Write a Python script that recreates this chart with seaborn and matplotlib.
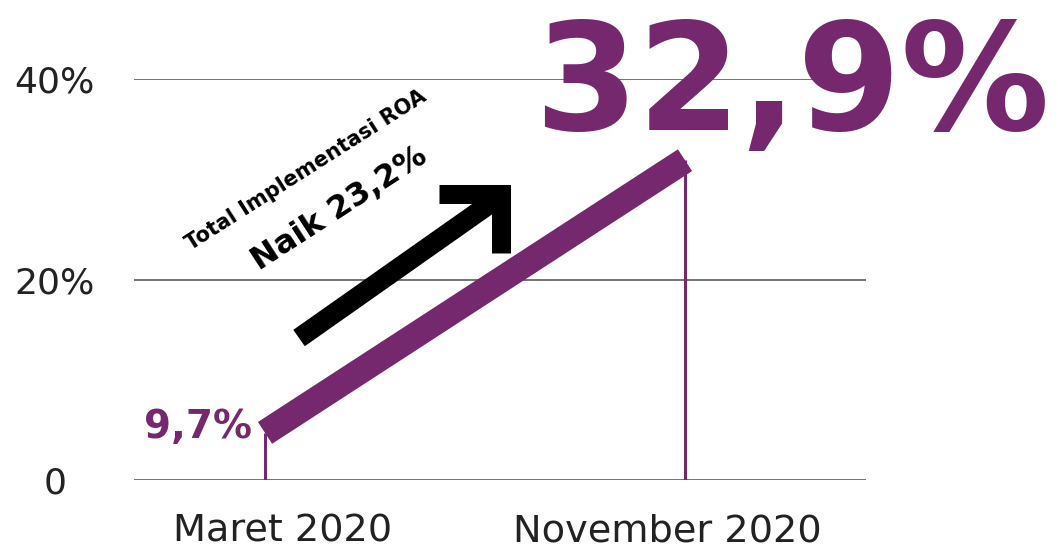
import numpy as np
import pandas as pd
import matplotlib
matplotlib.use("Agg")
import matplotlib.pyplot as plt
import matplotlib.transforms as mtransforms
import seaborn as sns

# ---- data ----
categories = ["Maret 2020", "November 2020"]
roa_values = [9.7, 32.9]          # labelled values
band_values = [4.7, 31.9]         # drawn line height
y_ticks = [0, 20, 40]
y_tick_labels = ["0", "20%", "40%"]
title_small = "Total Implementasi ROA"
title_big = "Naik 23,2%"

PURPLE = "#76286F"
DARK = "#222222"

sns.set_theme(style="white")
plt.rcParams["font.family"] = ["DejaVu Sans"]

fig = plt.figure(figsize=(10.58, 5.49), dpi=100)
ax = fig.add_axes([134 / 1058, (549 - 480) / 549, (866 - 134) / 1058, (480 - 79) / 549])

pos = np.arange(len(categories))
df = pd.DataFrame({"pos": pos, "band": band_values})

# thin vertical drop lines
ax.vlines(pos, 0, df["band"], color=PURPLE, lw=2.2, zorder=2)
# thick band line
sns.lineplot(data=df, x="pos", y="band", ax=ax, color=PURPLE, lw=18.7,
             solid_capstyle="butt", zorder=3, legend=False)

ax.set_xlim(-0.312, 1.431)
ax.set_ylim(0, 40)
ax.set_yticks(y_ticks)
ax.set_yticklabels(y_tick_labels)
ax.set_xticks(pos)
ax.set_xticklabels(categories)
ax.set_xlabel("")
ax.set_ylabel("")

for s in ax.spines.values():
    s.set_visible(False)
ax.yaxis.grid(True, color="#737373", lw=1.4, zorder=0)
ax.xaxis.grid(False)
ax.set_axisbelow(True)

ax.tick_params(axis="y", length=0, pad=57, labelsize=26, labelcolor=DARK)
ax.tick_params(axis="x", length=0, pad=24, labelsize=27.5, labelcolor=DARK)
for lab in ax.get_yticklabels():
    lab.set_horizontalalignment("center")
offsets = [18, -18]
for lab, dx in zip(ax.get_xticklabels(), offsets):
    lab.set_transform(lab.get_transform() +
                      mtransforms.ScaledTranslation(dx / 100, 0, fig.dpi_scale_trans))

def fmt(v):
    return f"{v:.1f}".replace(".", ",") + "%"

# value labels
ax.annotate(fmt(roa_values[0]), xy=(pos[0], band_values[0]), xytext=(-9.4, -3.6),
            textcoords="offset points", ha="right", va="baseline",
            fontsize=28, fontweight="bold", color=PURPLE, zorder=5)
ax.annotate(fmt(roa_values[1]), xy=(pos[1], band_values[1]), xytext=(77, 22),
            textcoords="offset points", ha="center", va="baseline",
            fontsize=107, fontweight="bold", color=PURPLE, zorder=5,
            annotation_clip=False)

# rotated annotation text
ax.text(0.235, 0.773, title_small, transform=ax.transAxes, rotation=32.5,
        rotation_mode="anchor", ha="center", va="center", fontsize=15,
        fontweight="bold", color="black")
ax.text(0.281, 0.678, title_big, transform=ax.transAxes, rotation=33,
        rotation_mode="anchor", ha="center", va="center", fontsize=23,
        fontweight="bold", color="black")

# black arrow: shaft + right-angle head
ax.plot([0.081, 0.548], [14.16, 27.93], color="black", lw=14.4,
        solid_capstyle="butt", zorder=4)
ax.plot([0.414, 0.563, 0.563], [28.48, 28.48, 22.64], color="black", lw=13.7,
        solid_capstyle="butt", solid_joinstyle="miter", zorder=4)

fig.savefig("out.png", dpi=100, facecolor="white")
